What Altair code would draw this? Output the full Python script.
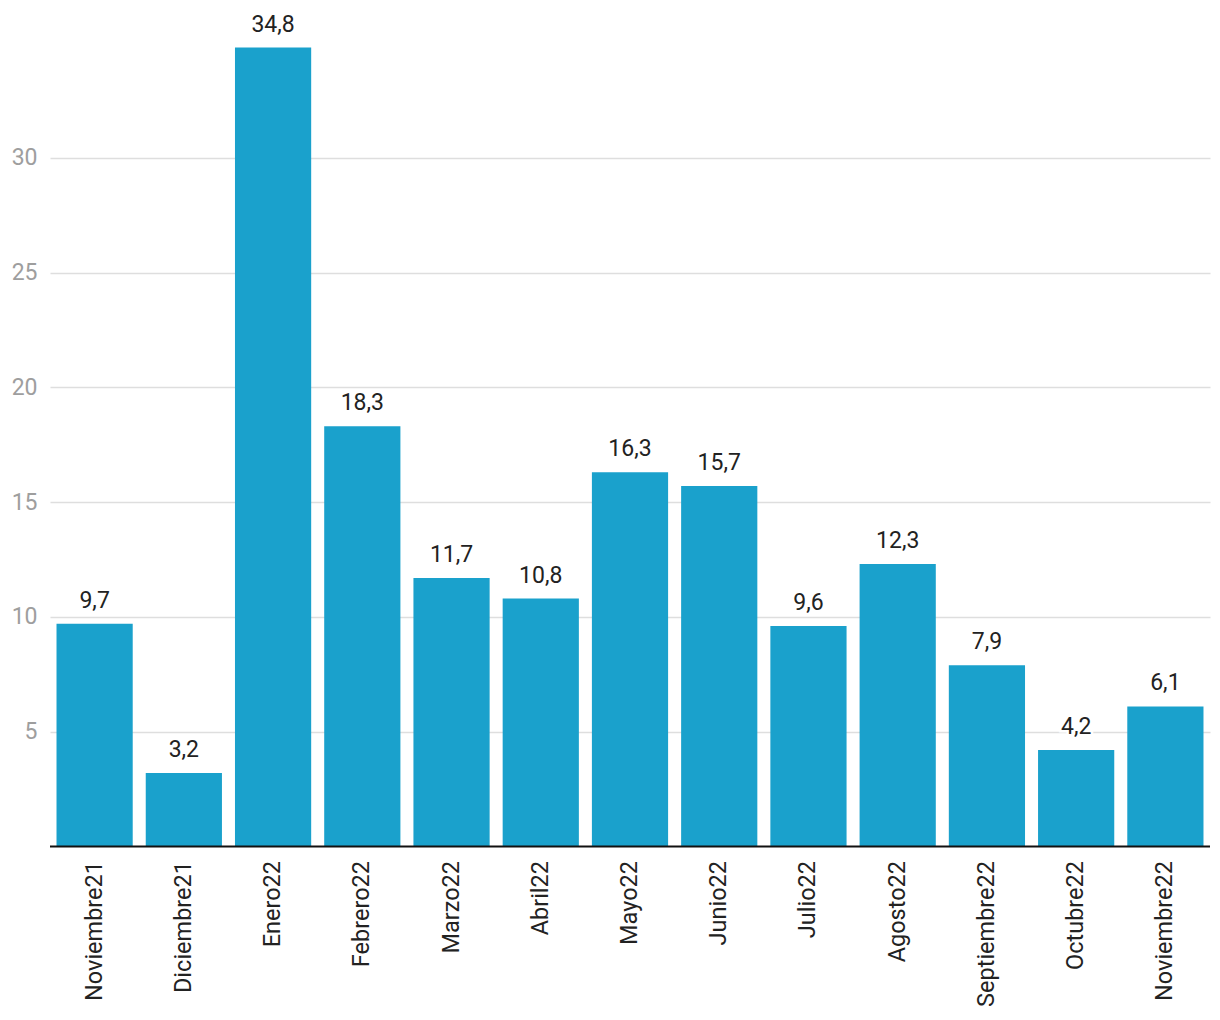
import altair as alt
import pandas as pd

months = ["Noviembre21", "Diciembre21", "Enero22", "Febrero22", "Marzo22", "Abril22",
          "Mayo22", "Junio22", "Julio22", "Agosto22", "Septiembre22", "Octubre22", "Noviembre22"]
values = [9.7, 3.2, 34.8, 18.3, 11.7, 10.8, 16.3, 15.7, 9.6, 12.3, 7.9, 4.2, 6.1]
y_ticks = [5, 10, 15, 20, 25, 30]

df = pd.DataFrame({"mes": months, "valor": values})

FONT = "Roboto"
BAR = "#1aa1cc"

x = alt.X("mes:N", sort=months, title=None,
          scale=alt.Scale(paddingInner=0.146, paddingOuter=0.073),
          axis=alt.Axis(labelAngle=-90, labelAlign="right", labelBaseline="middle",
                        labelFontSize=23.5, labelColor="#222222", labelFont=FONT,
                        labelPadding=14, ticks=False, domain=False, grid=False))
y = alt.Y("valor:Q", title=None,
          scale=alt.Scale(domain=[0, 36], nice=False),
          axis=alt.Axis(values=y_ticks, labelFontSize=23, labelColor="#9e9e9e",
                        labelFont=FONT, labelPadding=13, ticks=False, domain=False,
                        grid=True, gridColor="#dedede", gridWidth=1.5))

base = alt.Chart(df)

bars = base.mark_bar(color=BAR).encode(x=x, y=y)

label_expr = "replace(format(datum.valor, '.1f'), '.', ',')"
halo = base.mark_text(baseline="bottom", dy=-11, fontSize=23, font=FONT,
                      stroke="white", strokeWidth=5, color="white").encode(
    x=alt.X("mes:N", sort=months), y="valor:Q", text="lbl:N"
).transform_calculate(lbl=label_expr)
text = base.mark_text(baseline="bottom", dy=-11, fontSize=23, font=FONT,
                      color="#222222").encode(
    x=alt.X("mes:N", sort=months), y="valor:Q", text="lbl:N"
).transform_calculate(lbl=label_expr)

baseline = alt.Chart(pd.DataFrame({"z": [0]})).mark_rule(color="#111111", strokeWidth=2).encode(
    y="z:Q")

chart = alt.layer(bars, halo, text, baseline).properties(
    width=1160, height=826.5,
    autosize=alt.AutoSizeParams(type="none"),
    padding={"left": 42, "top": 12, "right": 2, "bottom": 170},
    background="white",
).configure_view(stroke=None)

chart.save("out.html", embed_options={"renderer": "svg", "actions": False})
